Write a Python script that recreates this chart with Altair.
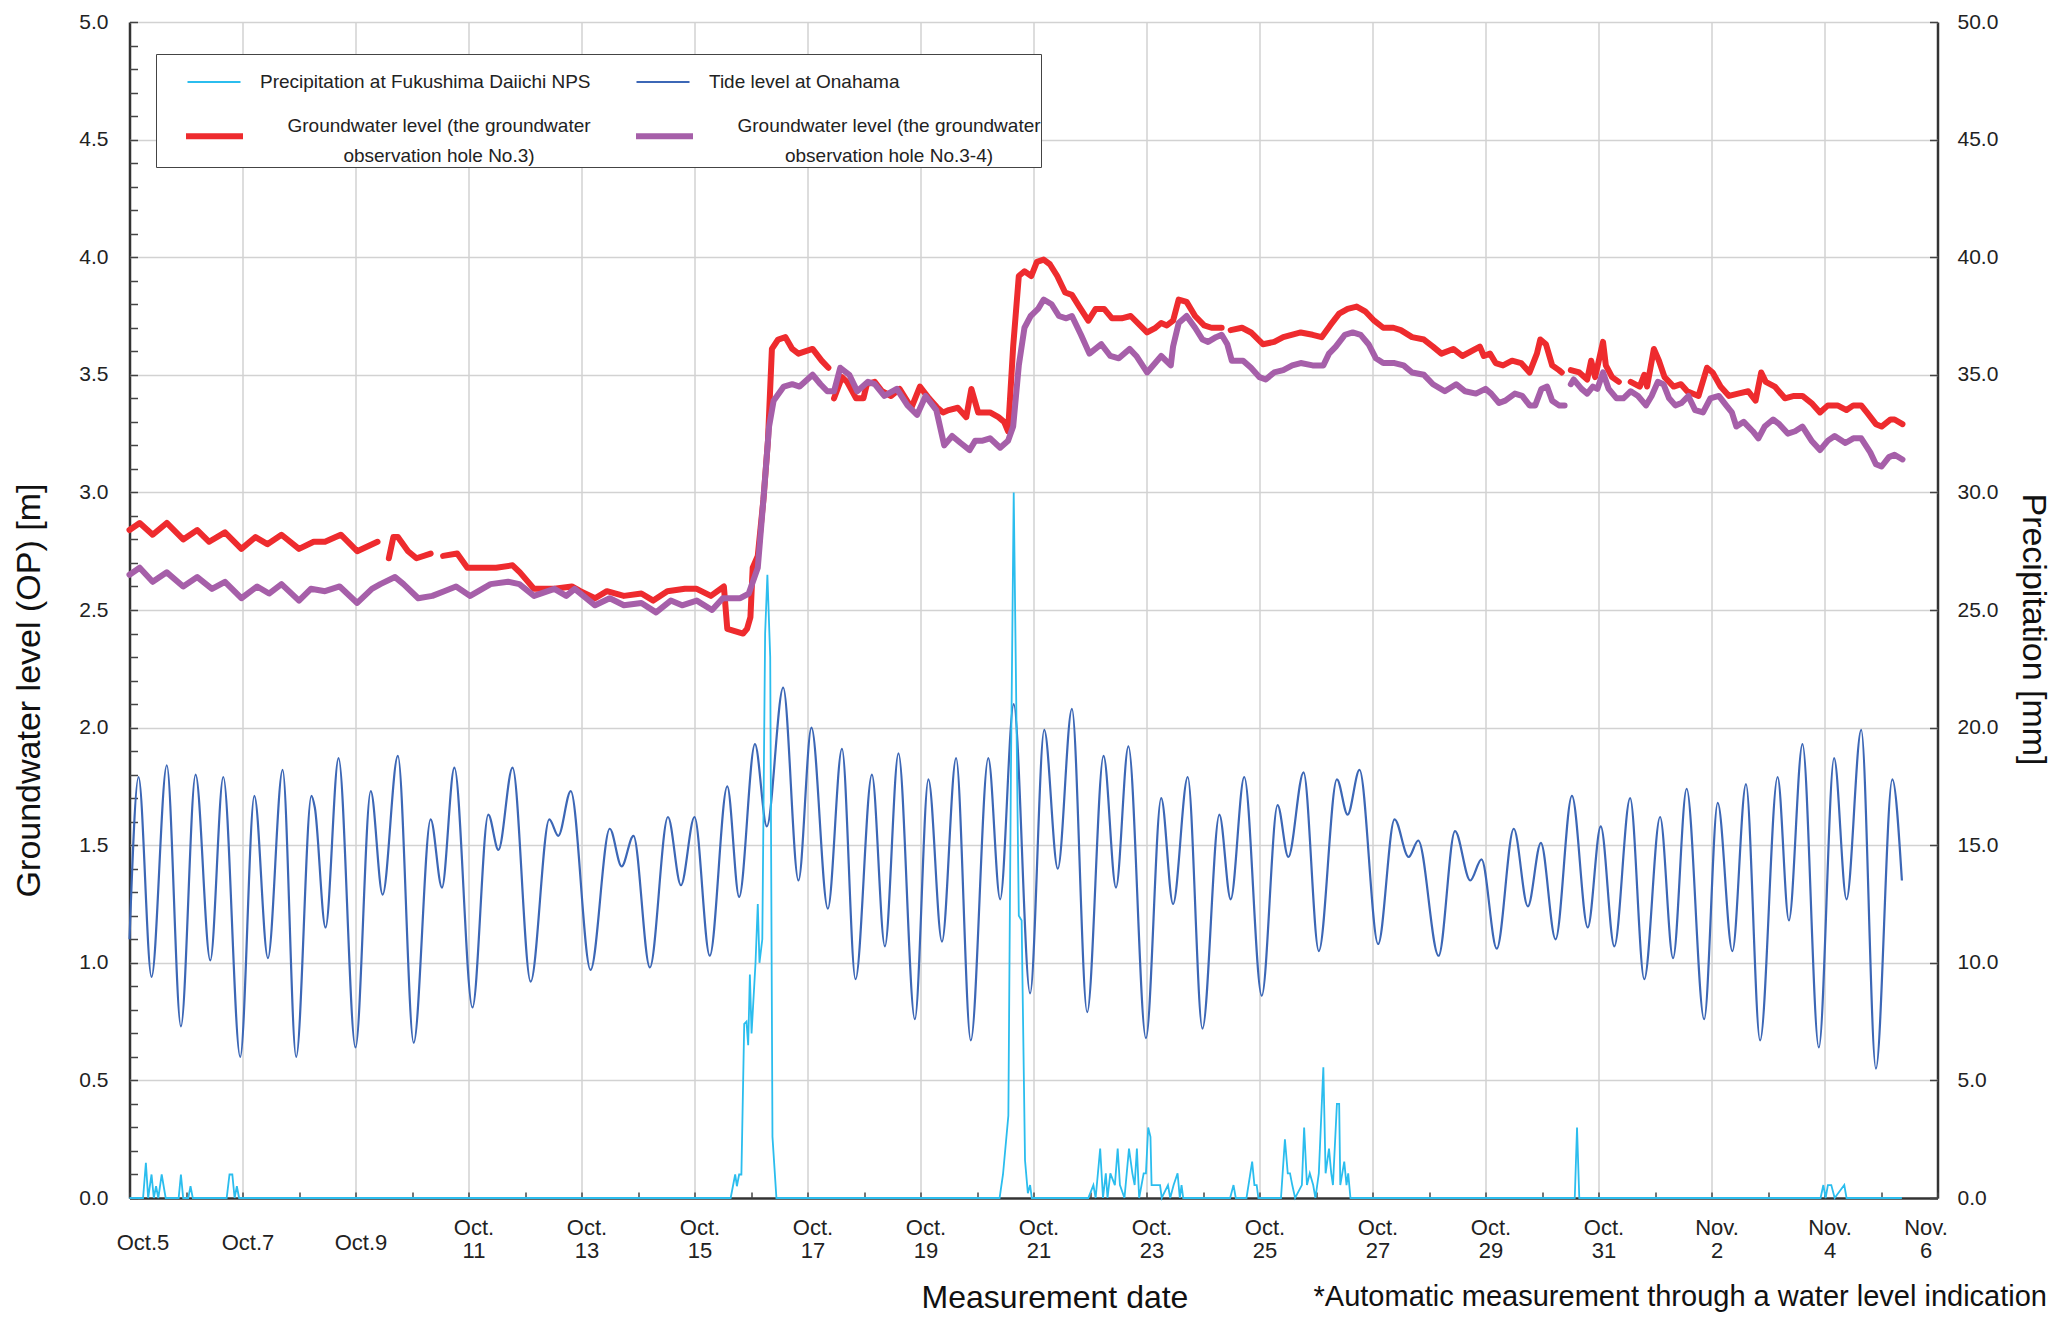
import altair as alt
import pandas as pd

FONT = "Liberation Sans"

SERIES = [
    "Precipitation at Fukushima Daiichi NPS",
    "Tide level at Onahama",
    "Groundwater level (the groundwater|observation hole No.3)",
    "Groundwater level (the groundwater|observation hole No.3-4)",
]
COLORS = ["#2BBDEE", "#3C67B6", "#EE2B2E", "#A65FA9"]
WIDTHS = [1.8, 2.2, 6, 6]

X_TICK_DAYS = list(range(0, 33))
X_LABELS = ["Oct.5", "Oct.7", "Oct.9", "Oct.|11", "Oct.|13", "Oct.|15", "Oct.|17",
            "Oct.|19", "Oct.|21", "Oct.|23", "Oct.|25", "Oct.|27", "Oct.|29",
            "Oct.|31", "Nov.|2", "Nov.|4", "Nov.|6"]
Y_LEFT_TICKS = [round(i * 0.1, 1) for i in range(51)]
Y_RIGHT_TICKS = [0, 5, 10, 15, 20, 25, 30, 35, 40, 45, 50]

# (day since Oct.5 0:00, tide level m)
TIDE_LEVEL = [
    (0.00, 1.10), (0.16, 1.79), (0.39, 0.94), (0.66, 1.84), (0.91, 0.73), (1.17, 1.80),
    (1.43, 1.01), (1.66, 1.79), (1.96, 0.60), (2.21, 1.71), (2.45, 1.02), (2.71, 1.82),
    (2.95, 0.60), (3.22, 1.71), (3.28, 1.66), (3.47, 1.15), (3.70, 1.87), (4.00, 0.64),
    (4.27, 1.73), (4.48, 1.29), (4.75, 1.88), (5.03, 0.66), (5.33, 1.61), (5.53, 1.32),
    (5.75, 1.83), (6.07, 0.81), (6.35, 1.63), (6.53, 1.48), (6.78, 1.83), (7.10, 0.92),
    (7.43, 1.61), (7.59, 1.54), (7.81, 1.73), (8.16, 0.97), (8.50, 1.57), (8.71, 1.41),
    (8.92, 1.54), (9.21, 0.98), (9.53, 1.62), (9.76, 1.33), (10.00, 1.62), (10.27, 1.03),
    (10.58, 1.75), (10.79, 1.28), (11.07, 1.93), (11.28, 1.58), (11.57, 2.17), (11.84, 1.35),
    (12.07, 2.00), (12.36, 1.23), (12.61, 1.91), (12.85, 0.93), (13.14, 1.80), (13.37, 1.07),
    (13.61, 1.89), (13.90, 0.76), (14.14, 1.78), (14.38, 1.09), (14.63, 1.87), (14.89, 0.67),
    (15.20, 1.87), (15.41, 1.27), (15.65, 2.10), (15.94, 0.87), (16.19, 1.99), (16.43, 1.40),
    (16.68, 2.08), (16.95, 0.79), (17.24, 1.88), (17.46, 1.32), (17.68, 1.92), (17.99, 0.68),
    (18.26, 1.70), (18.47, 1.25), (18.73, 1.79), (18.99, 0.72), (19.29, 1.63), (19.49, 1.27),
    (19.73, 1.79), (20.04, 0.86), (20.32, 1.67), (20.51, 1.45), (20.78, 1.81), (21.05, 1.05),
    (21.37, 1.78), (21.56, 1.63), (21.77, 1.82), (22.10, 1.08), (22.39, 1.61), (22.64, 1.45),
    (22.81, 1.52), (23.17, 1.03), (23.46, 1.56), (23.73, 1.35), (23.93, 1.44), (24.20, 1.06),
    (24.50, 1.57), (24.75, 1.24), (24.98, 1.51), (25.24, 1.10), (25.53, 1.71), (25.81, 1.15),
    (26.04, 1.58), (26.28, 1.07), (26.56, 1.70), (26.81, 0.93), (27.09, 1.62), (27.32, 1.02),
    (27.56, 1.74), (27.87, 0.76), (28.11, 1.68), (28.37, 1.05), (28.61, 1.76), (28.86, 0.67),
    (29.17, 1.79), (29.37, 1.18), (29.61, 1.93), (29.90, 0.64), (30.17, 1.87), (30.39, 1.27),
    (30.65, 1.99), (30.91, 0.55), (31.20, 1.78), (31.37, 1.35),
]

# (day, precipitation mm)
PRECIPITATION = [
    (0.00, 0), (0.24, 0), (0.29, 1.5), (0.33, 0), (0.39, 1.0), (0.43, 0), (0.47, 0.5),
    (0.51, 0), (0.57, 1.0), (0.64, 0), (0.87, 0), (0.91, 1.0), (0.95, 0), (1.04, 0),
    (1.08, 0.5), (1.12, 0), (1.72, 0), (1.77, 1.0), (1.82, 1.0), (1.86, 0), (1.90, 0.5),
    (1.94, 0),
    (10.64, 0), (10.72, 1.0), (10.75, 0.5), (10.79, 1.0), (10.83, 1.0), (10.88, 7.4),
    (10.92, 7.5), (10.95, 6.5), (10.98, 9.5), (11.01, 7.0), (11.08, 10.0), (11.12, 12.5),
    (11.15, 10.0), (11.20, 11.0), (11.25, 24.0), (11.29, 26.5), (11.34, 23.0), (11.38, 2.6),
    (11.45, 0),
    (15.40, 0), (15.46, 1.0), (15.555, 3.5), (15.60, 18.0), (15.65, 30.0), (15.70, 20.0),
    (15.74, 12.0), (15.79, 11.8), (15.85, 1.6), (15.90, 0.2), (15.94, 0.55), (15.97, 0),
    (16.97, 0), (17.06, 0.55), (17.10, 0), (17.18, 2.1), (17.23, 0), (17.28, 1.05),
    (17.31, 0), (17.36, 1.05), (17.44, 0.55), (17.49, 2.1), (17.53, 0.55), (17.61, 0),
    (17.69, 2.1), (17.75, 1.05), (17.79, 0.55), (17.83, 2.1), (17.87, 0), (17.95, 1.05),
    (17.99, 1.05), (18.03, 3.0), (18.07, 2.6), (18.09, 0.55), (18.24, 0.55), (18.27, 0),
    (18.38, 0.55), (18.42, 0), (18.48, 0.55), (18.55, 1.05), (18.59, 0), (18.62, 0.55),
    (18.65, 0),
    (19.48, 0), (19.54, 0.55), (19.58, 0), (19.77, 0), (19.87, 1.55), (19.91, 0.55),
    (19.95, 0.55), (19.98, 0),
    (20.38, 0), (20.45, 2.5), (20.50, 1.05), (20.54, 1.05), (20.58, 0.55), (20.63, 0),
    (20.75, 0.55), (20.79, 3.0), (20.84, 0.55), (20.89, 1.05), (20.95, 0.55), (20.99, 0),
    (21.05, 1.05), (21.13, 5.56), (21.17, 1.05), (21.23, 2.1), (21.27, 1.05), (21.30, 0.55),
    (21.37, 4.0), (21.41, 4.0), (21.43, 0.55), (21.50, 1.55), (21.54, 0.55), (21.57, 1.05),
    (21.61, 0),
    (25.58, 0), (25.62, 3.0), (25.66, 0),
    (29.93, 0), (29.98, 0.55), (30.02, 0), (30.06, 0.55), (30.12, 0.55), (30.18, 0),
    (30.35, 0.55), (30.39, 0), (31.37, 0),
]

# (day, groundwater level m); None marks a gap in the record
GW_NO3 = [
    (0.00, 2.84), (0.18, 2.87), (0.41, 2.82), (0.66, 2.87), (0.95, 2.80), (1.20, 2.84),
    (1.41, 2.79), (1.69, 2.83), (1.98, 2.76), (2.23, 2.81), (2.44, 2.78), (2.69, 2.82),
    (3.00, 2.76), (3.26, 2.79), (3.46, 2.79), (3.74, 2.82), (4.03, 2.75), (4.39, 2.79),
    (4.50, None),
    (4.59, 2.72), (4.67, 2.81), (4.75, 2.81), (4.93, 2.75), (5.08, 2.72), (5.33, 2.74),
    (5.45, None),
    (5.55, 2.73), (5.80, 2.74), (5.98, 2.68), (6.29, 2.68), (6.49, 2.68), (6.78, 2.69),
    (6.91, 2.66), (7.16, 2.59), (7.52, 2.59), (7.83, 2.60), (7.98, 2.58), (8.24, 2.55),
    (8.45, 2.58), (8.75, 2.56), (9.06, 2.57), (9.27, 2.54), (9.52, 2.58), (9.83, 2.59),
    (10.04, 2.59), (10.29, 2.56), (10.52, 2.60), (10.58, 2.42), (10.86, 2.40), (10.93, 2.42),
    (10.99, 2.47), (11.03, 2.68), (11.12, 2.73), (11.22, 2.97), (11.30, 3.22), (11.37, 3.61),
    (11.48, 3.65), (11.61, 3.66), (11.73, 3.61), (11.84, 3.59), (12.09, 3.61), (12.25, 3.56),
    (12.37, 3.53),
    (12.42, None),
    (12.47, 3.40), (12.61, 3.49), (12.70, 3.47), (12.86, 3.40), (12.99, 3.40), (13.05, 3.46),
    (13.19, 3.47), (13.32, 3.43), (13.48, 3.41), (13.63, 3.44), (13.84, 3.36), (13.99, 3.45),
    (14.15, 3.40), (14.30, 3.36), (14.40, 3.34), (14.50, 3.35), (14.66, 3.36), (14.81, 3.32),
    (14.90, 3.44), (15.02, 3.34), (15.23, 3.34), (15.38, 3.32), (15.48, 3.30), (15.55, 3.26),
    (15.64, 3.62), (15.74, 3.92), (15.84, 3.94), (15.96, 3.92), (16.06, 3.98), (16.18, 3.99),
    (16.29, 3.97), (16.42, 3.92), (16.56, 3.85), (16.68, 3.84), (16.81, 3.79), (16.97, 3.73),
    (17.10, 3.78), (17.25, 3.78), (17.39, 3.74), (17.56, 3.74), (17.72, 3.75), (18.01, 3.68),
    (18.16, 3.70), (18.26, 3.72), (18.36, 3.71), (18.47, 3.73), (18.57, 3.82), (18.71, 3.81),
    (18.86, 3.75), (19.02, 3.71), (19.15, 3.70), (19.33, 3.70),
    (19.40, None),
    (19.49, 3.69), (19.69, 3.70), (19.85, 3.68), (20.06, 3.63), (20.26, 3.64), (20.42, 3.66),
    (20.73, 3.68), (20.94, 3.67), (21.10, 3.66), (21.25, 3.71), (21.41, 3.76), (21.56, 3.78),
    (21.72, 3.79), (21.87, 3.77), (22.03, 3.73), (22.19, 3.70), (22.37, 3.70), (22.50, 3.69),
    (22.70, 3.66), (22.91, 3.65), (23.07, 3.62), (23.22, 3.59), (23.43, 3.61), (23.59, 3.58),
    (23.90, 3.62), (23.97, 3.58), (24.08, 3.59), (24.18, 3.55), (24.31, 3.54), (24.47, 3.56),
    (24.63, 3.55), (24.78, 3.51), (24.91, 3.59), (24.97, 3.65), (25.07, 3.63), (25.18, 3.54),
    (25.30, 3.52), (25.35, 3.51),
    (25.43, None),
    (25.51, 3.52), (25.66, 3.51), (25.80, 3.48), (25.87, 3.56), (25.94, 3.49), (26.08, 3.64),
    (26.13, 3.54), (26.24, 3.49), (26.36, 3.47),
    (26.46, None),
    (26.57, 3.47), (26.73, 3.45), (26.81, 3.50), (26.86, 3.45), (26.98, 3.61), (27.07, 3.56),
    (27.17, 3.49), (27.33, 3.45), (27.46, 3.46), (27.57, 3.43), (27.77, 3.41), (27.92, 3.53),
    (28.02, 3.51), (28.16, 3.45), (28.31, 3.41), (28.47, 3.42), (28.65, 3.43), (28.78, 3.39),
    (28.88, 3.51), (28.96, 3.47), (29.12, 3.45), (29.30, 3.40), (29.46, 3.41), (29.61, 3.41),
    (29.77, 3.38), (29.92, 3.34), (30.06, 3.37), (30.23, 3.37), (30.39, 3.35), (30.51, 3.37),
    (30.65, 3.37), (30.75, 3.34), (30.91, 3.29), (31.01, 3.28), (31.17, 3.31), (31.24, 3.31),
    (31.38, 3.29),
]

GW_NO3_4 = [
    (0.00, 2.65), (0.18, 2.68), (0.41, 2.62), (0.66, 2.66), (0.95, 2.60), (1.20, 2.64),
    (1.46, 2.59), (1.69, 2.62), (1.98, 2.55), (2.26, 2.60), (2.47, 2.57), (2.69, 2.61),
    (3.00, 2.54), (3.21, 2.59), (3.46, 2.58), (3.72, 2.60), (4.03, 2.53), (4.29, 2.59),
    (4.44, 2.61), (4.70, 2.64), (4.85, 2.61), (5.11, 2.55), (5.36, 2.56), (5.57, 2.58),
    (5.78, 2.60), (6.03, 2.56), (6.39, 2.61), (6.70, 2.62), (6.90, 2.61), (7.16, 2.56),
    (7.52, 2.59), (7.73, 2.56), (7.88, 2.59), (8.24, 2.52), (8.50, 2.55), (8.75, 2.52),
    (9.06, 2.53), (9.32, 2.49), (9.58, 2.54), (9.78, 2.52), (10.04, 2.54), (10.31, 2.50),
    (10.50, 2.55), (10.81, 2.55), (10.96, 2.57), (11.12, 2.68), (11.22, 2.97), (11.32, 3.28),
    (11.40, 3.39), (11.58, 3.45), (11.73, 3.46), (11.86, 3.45), (12.09, 3.50), (12.23, 3.46),
    (12.35, 3.43), (12.47, 3.43), (12.58, 3.53), (12.74, 3.50), (12.88, 3.43), (13.07, 3.47),
    (13.19, 3.46), (13.36, 3.41), (13.58, 3.44), (13.77, 3.37), (13.94, 3.33), (14.09, 3.41),
    (14.28, 3.35), (14.42, 3.20), (14.56, 3.24), (14.71, 3.21), (14.87, 3.18), (14.97, 3.22),
    (15.10, 3.22), (15.23, 3.23), (15.41, 3.19), (15.55, 3.22), (15.64, 3.28), (15.74, 3.54),
    (15.84, 3.70), (15.95, 3.75), (16.08, 3.78), (16.18, 3.82), (16.32, 3.80), (16.45, 3.75),
    (16.58, 3.74), (16.68, 3.75), (16.84, 3.67), (16.99, 3.59), (17.20, 3.63), (17.36, 3.58),
    (17.51, 3.57), (17.70, 3.61), (17.82, 3.58), (18.01, 3.51), (18.26, 3.58), (18.43, 3.54),
    (18.47, 3.62), (18.57, 3.72), (18.71, 3.75), (18.86, 3.70), (18.99, 3.65), (19.09, 3.64),
    (19.23, 3.66), (19.33, 3.67), (19.43, 3.63), (19.51, 3.56), (19.71, 3.56), (19.85, 3.53),
    (20.00, 3.49), (20.11, 3.48), (20.26, 3.51), (20.42, 3.52), (20.58, 3.54), (20.73, 3.55),
    (20.94, 3.54), (21.13, 3.54), (21.23, 3.59), (21.35, 3.62), (21.51, 3.67), (21.65, 3.68),
    (21.79, 3.67), (21.93, 3.63), (22.06, 3.57), (22.19, 3.55), (22.39, 3.55), (22.55, 3.54),
    (22.70, 3.51), (22.91, 3.50), (23.07, 3.46), (23.28, 3.43), (23.48, 3.46), (23.64, 3.43),
    (23.83, 3.42), (24.00, 3.44), (24.10, 3.42), (24.24, 3.38), (24.35, 3.39), (24.52, 3.42),
    (24.65, 3.41), (24.78, 3.37), (24.88, 3.37), (24.99, 3.44), (25.09, 3.45), (25.18, 3.39),
    (25.30, 3.37), (25.40, 3.37),
    (25.45, None),
    (25.51, 3.46), (25.56, 3.48), (25.70, 3.44), (25.80, 3.42), (25.90, 3.45), (25.98, 3.44),
    (26.08, 3.51), (26.18, 3.44), (26.32, 3.40), (26.44, 3.40), (26.57, 3.43), (26.70, 3.41),
    (26.84, 3.37), (26.94, 3.41), (27.05, 3.47), (27.15, 3.46), (27.25, 3.40), (27.36, 3.37),
    (27.47, 3.38), (27.59, 3.41), (27.71, 3.35), (27.85, 3.34), (27.98, 3.40), (28.13, 3.41),
    (28.26, 3.37), (28.36, 3.34), (28.44, 3.28), (28.57, 3.30), (28.73, 3.26), (28.83, 3.23),
    (28.94, 3.28), (29.09, 3.31), (29.20, 3.29), (29.35, 3.25), (29.48, 3.26), (29.61, 3.28),
    (29.77, 3.22), (29.92, 3.18), (30.06, 3.22), (30.18, 3.24), (30.37, 3.21), (30.51, 3.23),
    (30.65, 3.23), (30.81, 3.17), (30.91, 3.12), (31.01, 3.11), (31.14, 3.15), (31.24, 3.16),
    (31.38, 3.14),
]

FOOTNOTE = "*Automatic measurement through a water level indication"


def frame(pairs, series):
    rows, seg = [], 0
    for day, val in pairs:
        if val is None:
            seg += 1
            continue
        rows.append({"day": day, "value": val, "series": series, "seg": seg})
    return pd.DataFrame(rows)


tide_df = frame(TIDE_LEVEL, SERIES[1])
rain_df = frame(PRECIPITATION, SERIES[0])
gw3_df = frame(GW_NO3, SERIES[2])
gw34_df = frame(GW_NO3_4, SERIES[3])

labels_js = "[" + ",".join("'" + s + "'" for s in X_LABELS) + "]"
x_label_expr = "datum.value % 2 == 0 ? split(" + labels_js + "[datum.value / 2], '|') : ''"
edge_test = "datum.value == 0 || datum.value == 32"
half_test = "abs(datum.value * 2 - round(datum.value * 2)) < 0.001"
y_label_expr = half_test + " ? format(datum.value, '.1f') : ''"

x_axis = alt.Axis(
    values=X_TICK_DAYS, labelExpr=x_label_expr, labelOverlap=False, labelFlush=False,
    labelFontSize=22, labelLineHeight=23, labelBaseline="middle",
    labelPadding={"condition": {"test": "datum.value >= 6", "value": 29.5}, "value": 44},
    labelOffset={"condition": [{"test": "datum.value == 0", "value": 13},
                               {"test": "datum.value == 32", "value": -12}], "value": 5},
    labelColor="#222222", labelFont=FONT,
    offset=-6, domain=False, tickSize=6, tickColor="#444444", tickWidth=1.5,
    grid=True,
    gridOpacity={"condition": {"test": "datum.value % 2 == 0", "value": 1}, "value": 0},
    gridColor={"condition": {"test": edge_test, "value": "#333333"}, "value": "#D2D2D2"},
    gridWidth={"condition": {"test": edge_test, "value": 2.5}, "value": 1.5},
    title="Measurement date", titleFontSize=32, titleFont=FONT, titleFontWeight="normal",
    titleColor="#111111", titleX=925, titleY=105, titleBaseline="middle", titleAlign="center",
)

y_left_axis = alt.Axis(
    orient="left", values=Y_LEFT_TICKS, labelExpr=y_label_expr,
    offset=-8, domain=False, tickSize=8, tickColor="#444444", tickWidth=1.5,
    labelPadding=21.5, labelFontSize=21, labelColor="#222222", labelFont=FONT,
    grid=True,
    gridOpacity={"condition": {"test": half_test, "value": 1}, "value": 0},
    gridColor={"condition": {"test": "datum.value == 0", "value": "#333333"}, "value": "#D2D2D2"},
    gridWidth={"condition": {"test": "datum.value == 0", "value": 2.5}, "value": 1.5},
    title="Groundwater level (OP) [m]", titleFontSize=34, titleFont=FONT,
    titleFontWeight="normal", titleColor="#111111", titleAngle=270,
    titleX=-108.5, titleY=668, titleBaseline="middle", titleAlign="center",
)

y_right_axis = alt.Axis(
    orient="right", values=Y_RIGHT_TICKS, format=".1f",
    offset=-8, domain=False, tickSize=8, tickColor="#444444", tickWidth=1.5,
    labelPadding=19.5, labelFontSize=21, labelColor="#222222", labelFont=FONT,
    grid=False,
    title="Precipitation [mm]", titleFontSize=34, titleFont=FONT,
    titleFontWeight="normal", titleColor="#111111", titleAngle=90,
    titleX=102.5, titleY=607, titleBaseline="middle", titleAlign="center",
)

# first legend row: thin series (drawn over the framed box of the second legend)
legend_thin = alt.Legend(
    title=None, orient="none", legendX=26.5, legendY=32, columns=2, direction="horizontal",
    symbolType="stroke", symbolSize=2809, symbolStrokeWidth=2.2, symbolOffset=30,
    labelFontSize=19, labelFont=FONT, labelColor="#222222", labelLimit=700,
    labelOffset=18, labelBaseline="middle", columnPadding=14, padding=0, zindex=2,
)
# second legend row: groundwater series, owns the frame of the whole legend box
legend_thick = alt.Legend(
    title=" ", titleOrient="top", titleFontSize=1, titlePadding=49.5,
    orient="none", legendX=26.5, legendY=32, columns=2, direction="horizontal",
    symbolType="stroke", symbolSize=3249, symbolStrokeWidth=6, symbolOffset=27,
    labelExpr="split(datum.label, '|')", labelFontSize=19, labelFont=FONT,
    labelColor="#222222", labelLimit=700, labelAlign="center", labelOffset=193,
    labelBaseline="bottom", columnPadding=15, padding=0, zindex=1,
    strokeColor="#444444", fillColor="#FFFFFF",
)

color_thin = alt.Color("series:N", scale=alt.Scale(domain=SERIES[:2], range=COLORS[:2]),
                       legend=legend_thin)
stroke_thick = alt.Stroke("series:N", scale=alt.Scale(domain=SERIES[2:], range=COLORS[2:]),
                          legend=legend_thick)
x_enc = alt.X("day:Q", scale=alt.Scale(domain=[0, 32], nice=False, zero=False), axis=x_axis)
y_left_scale = alt.Scale(domain=[0, 5], nice=False, zero=False)

tide = alt.Chart(tide_df).mark_line(interpolate="monotone", strokeWidth=WIDTHS[1]).encode(
    x=x_enc, y=alt.Y("value:Q", scale=y_left_scale, axis=y_left_axis), color=color_thin,
)
gw3 = alt.Chart(gw3_df).mark_line(strokeJoin="round", strokeCap="round", strokeWidth=WIDTHS[2]).encode(
    x=x_enc, y=alt.Y("value:Q", scale=y_left_scale, axis=y_left_axis),
    stroke=stroke_thick, detail="seg:N",
)
gw34 = alt.Chart(gw34_df).mark_line(strokeJoin="round", strokeCap="round", strokeWidth=WIDTHS[3]).encode(
    x=x_enc, y=alt.Y("value:Q", scale=y_left_scale, axis=y_left_axis),
    stroke=stroke_thick, detail="seg:N",
)
footnote = alt.Chart(pd.DataFrame({"text": [FOOTNOTE]})).mark_text(
    align="right", baseline="middle", fontSize=29, font=FONT, color="#111111"
).encode(text="text:N", x=alt.value(1917.5), y=alt.value(1275))

left = alt.layer(tide, gw3, gw34, footnote)

rain = alt.Chart(rain_df).mark_line(strokeWidth=WIDTHS[0]).encode(
    x=x_enc,
    y=alt.Y("value:Q", scale=alt.Scale(domain=[0, 50], nice=False, zero=False), axis=y_right_axis),
    color=color_thin,
)

chart = alt.layer(left, rain).resolve_scale(y="independent").properties(
    width=1808, height=1176,
    autosize=alt.AutoSizeParams(type="none"),
    padding={"left": 121.5, "top": 14, "right": 114.5, "bottom": 115},
).configure_view(stroke=None).configure(style={"guide-label": {"lineHeight": 30}})

chart.save("out.html", embed_options={"renderer": "svg", "actions": False})
